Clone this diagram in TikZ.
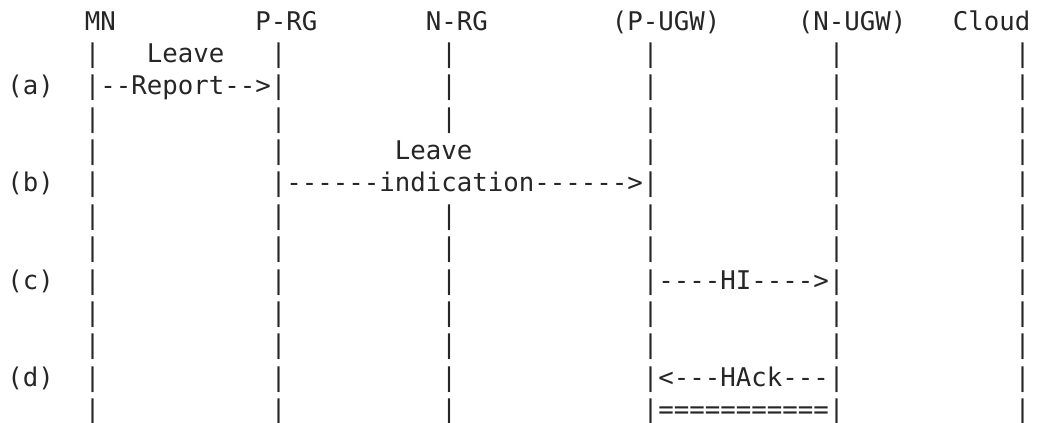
\documentclass[tikz,border=0pt]{standalone}
\usepackage{fontspec}
\setmonofont{DejaVu Sans Mono}
\tikzset{
  txt/.style={font=\ttfamily\fontsize{12.87}{14}\selectfont, text=black!85,
              inner sep=0pt, anchor=base west},
}
\begin{document}
\begin{tikzpicture}[x=7.75pt, y=-16.2pt]
\useasboundingbox (-0.452,-0.926) rectangle (66.52,12.13);
% one column = one character, one row = one text line (on its base line)
% entities
\node[txt] (mn)    at (5, 0)  {MN};
\node[txt] (prg)   at (16,0)  {P-RG};
\node[txt] (nrg)   at (27,0)  {N-RG};
\node[txt] (pugw)  at (39,0)  {(P-UGW)};
\node[txt] (nugw)  at (51,0)  {(N-UGW)};
\node[txt] (cloud) at (61,0)  {Cloud};
% life lines, left out where a message text runs over them
\foreach \c/\n in {5/mn,17/prg,28/nrg,41/pugw,53/nugw,65/cloud}
  \foreach \r in {1,...,12} {
    \pgfmathtruncatemacro\hidden{(\c==28)&&((\r==4)||(\r==5))}
    \ifnum\hidden=0
      \node[txt] (bar-\n-\r) at (\c,\r) {|};
    \fi
  }
% steps
\node[txt] (a) at (0,2)  {(a)};
\node[txt] (b) at (0,5)  {(b)};
\node[txt] (c) at (0,8)  {(c)};
\node[txt] (d) at (0,11) {(d)};
% messages
\node[txt] (leave1)  at (9, 1)  {Leave};
\node[txt] (report)  at (6, 2)  {--Report-->};
\node[txt] (leave2)  at (25,4)  {Leave};
\node[txt] (indic)   at (18,5)  {------indication------>};
\node[txt] (hi)      at (42,8)  {----HI---->};
\node[txt] (hack)    at (42,11) {<---HAck---};
\node[txt] (tunnel)  at (42,12) {===========};
\end{tikzpicture}
\end{document}
